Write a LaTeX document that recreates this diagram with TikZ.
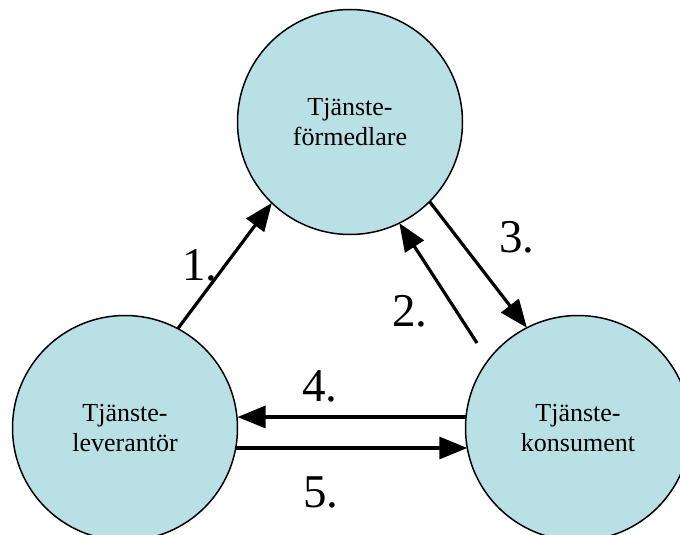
\documentclass[tikz,border=0pt]{standalone}
\usepackage{fontspec}
\setmainfont{Liberation Serif}
\usetikzlibrary{arrows.meta}
\definecolor{roleblue}{RGB}{185,224,228}
\begin{document}
\begin{tikzpicture}[x=1pt,y=-1pt,
  role/.style={circle,draw=black,line width=1.5pt,fill=roleblue,
    minimum size=225pt,inner sep=0pt,outer sep=0pt,align=center,
    font=\fontsize{26}{30}\selectfont},
  flow/.style={line width=3.2pt,-{Triangle[length=28pt,width=22pt]}},
  steplabel/.style={font=\fontsize{47}{50}\selectfont,inner sep=0pt}]
\useasboundingbox (0,0) rectangle (680,535);
% the three roles
\node[role] (mid) at (350,122) {Tjänste-\\förmedlare};
\node[role] (prov) at (125,428) {Tjänste-\\leverantör};
\node[role] (cons) at (578,428) {Tjänste-\\konsument};
% message flows
\coordinate (tail2) at (477,343);
\draw[flow] (prov.62.8) -- (mid.226);
\draw[flow] (tail2) -- (mid.296.3);
\draw[flow] (mid.315.4) -- (cons.117.2);
\draw[flow] ([yshift=11pt]cons.west) -- ([yshift=11pt]prov.east);
\draw[flow] ([yshift=-20pt,xshift=-1.8pt]prov.east) -- ([yshift=-20pt,xshift=1.8pt]cons.west);
% step numbers
\node[steplabel] (n1) at (200,265) {1.};
\node[steplabel] (n2) at (410,311) {2.};
\node[steplabel] (n3) at (517,237) {3.};
\node[steplabel] (n4) at (320,386) {4.};
\node[steplabel] (n5) at (321,492) {5.};
\end{tikzpicture}
\end{document}
